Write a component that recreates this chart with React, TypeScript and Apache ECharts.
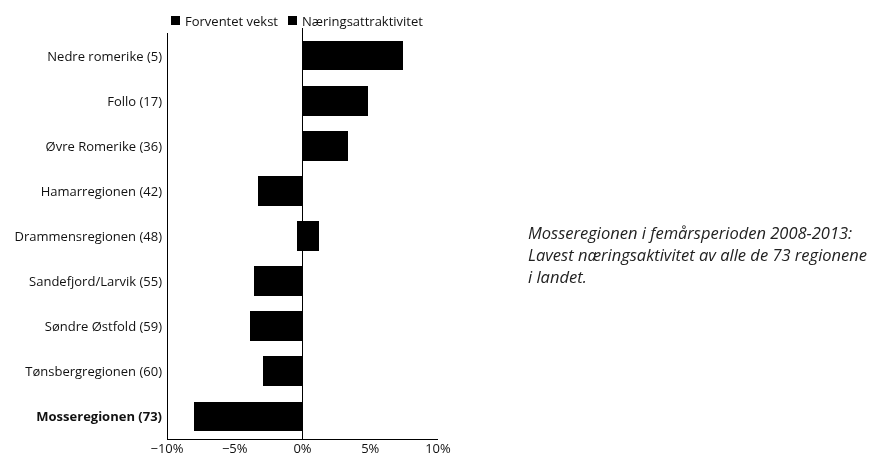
import React, { useEffect, useRef } from "react";
import * as echarts from "echarts";

const categories = [
  "Nedre romerike (5)",
  "Follo (17)",
  "Øvre Romerike (36)",
  "Hamarregionen (42)",
  "Drammensregionen (48)",
  "Sandefjord/Larvik (55)",
  "Søndre Østfold (59)",
  "Tønsbergregionen (60)",
  "Mosseregionen (73)",
];
const forventetVekst = [3.0, 1.85, 1.5, -1.2, -0.4, -1.5, -1.5, -1.2, -3.0];
const naeringsattraktivitet = [4.4, 2.95, 1.85, -2.05, 1.2, -2.1, -2.4, -1.7, -5.0];
const xTicks = [-10, -5, 0, 5, 10];
const note = [
  "Mosseregionen i femårsperioden 2008-2013:",
  "Lavest næringsaktivitet av alle de 73 regionene",
  "i landet.",
];

const FONT = "'Open Sans', 'Noto Sans', sans-serif";

export default function App() {
  const ref = useRef<HTMLDivElement>(null);
  useEffect(() => {
    if (!ref.current) return;
    const chart = echarts.init(ref.current, undefined, { renderer: "svg" });
    const barStyle = { color: "#000" };
    chart.setOption({
      animation: false,
      textStyle: { fontFamily: FONT },
      legend: {
        top: 9,
        left: 166,
        icon: "rect",
        itemWidth: 9,
        itemHeight: 9,
        itemGap: 10,
        textStyle: { fontSize: 13, color: "#111", fontFamily: FONT },
        data: ["Forventet vekst", "Næringsattraktivitet"],
      },
      grid: { left: 167, right: 436, top: 33, bottom: 17, containLabel: false },
      xAxis: {
        type: "value",
        min: xTicks[0],
        max: xTicks[xTicks.length - 1],
        interval: 5,
        axisLine: { show: true, lineStyle: { color: "#000", width: 1 } },
        axisTick: { show: false },
        splitLine: { show: false },
        axisLabel: {
          margin: 2,
          fontSize: 13,
          lineHeight: 13,
          color: "#111",
          fontFamily: FONT,
          formatter: (v: number) => (v < 0 ? "\u2212" : "") + Math.abs(v) + "%",
        },
      },
      yAxis: {
        type: "category",
        inverse: true,
        data: categories,
        axisLine: { show: true, onZero: false, lineStyle: { color: "#000", width: 1 } },
        axisTick: { show: false },
        axisLabel: {
          margin: 5,
          fontSize: 13,
          color: "#111",
          fontFamily: FONT,
          formatter: (v: string) => (v.startsWith("Mosse") ? "{b|" + v + "}" : v),
          rich: { b: { fontWeight: "bold", fontSize: 13, color: "#111", fontFamily: FONT } },
        },
      },
      series: [
        {
          name: "Forventet vekst",
          type: "bar",
          stack: "total",
          data: forventetVekst,
          barWidth: "66%",
          itemStyle: barStyle,
          markLine: {
            silent: true,
            symbol: "none",
            label: { show: false },
            lineStyle: { color: "#000", width: 1.2, type: "solid" },
            data: [[{ coord: [0, 0], y: 28 }, { coord: [0, 0], y: 439 }]],
          },
        },
        {
          name: "Næringsattraktivitet",
          type: "bar",
          stack: "total",
          data: naeringsattraktivitet,
          barWidth: "66%",
          itemStyle: barStyle,
        },
      ],
      graphic: [
        {
          type: "text",
          left: 528,
          top: 221,
          style: {
            text: note.join("\n"),
            font: `italic 16.5px ${FONT}`,
            lineHeight: 22,
            fill: "#222",
          },
        },
      ],
    });
    return () => chart.dispose();
  }, []);
  return (
    <>
      <style>{"#chartbox path{shape-rendering:crispEdges}"}</style>
      <div
        id="chartbox"
        ref={ref}
        style={{ position: "fixed", left: 0, top: 0, width: 874, height: 456 }}
      />
    </>
  );
}
